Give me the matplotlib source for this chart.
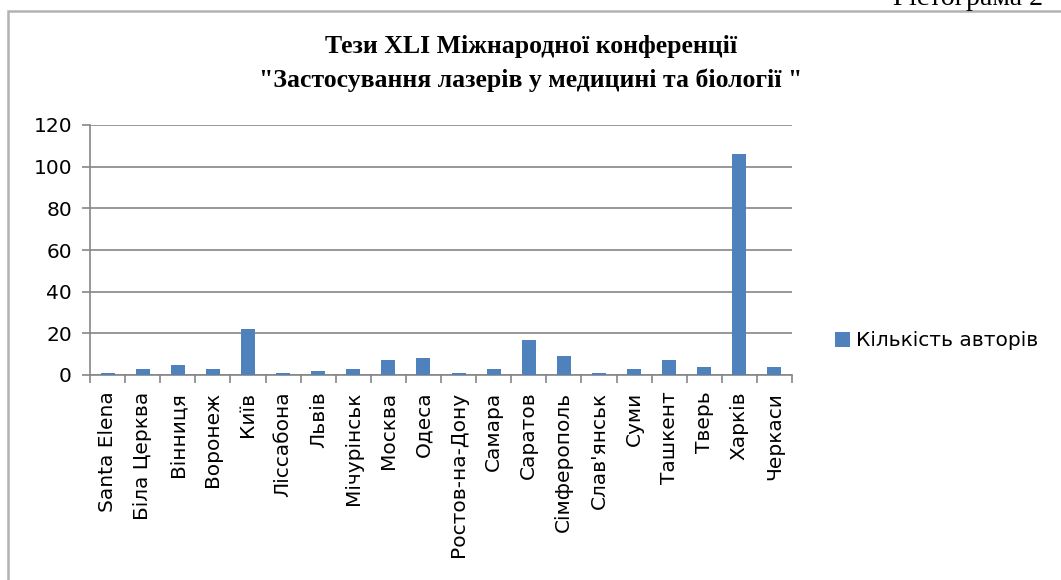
import matplotlib.pyplot as plt
import numpy as np
from matplotlib.patches import Rectangle

# дані гістограми
cities = ['Santa Elena', 'Біла Церква', 'Вінниця', 'Воронеж', 'Київ', 'Ліссабона',
          'Львів', 'Мічурінськ', 'Москва', 'Одеса', 'Ростов-на-Дону', 'Самара',
          'Саратов', 'Сімферополь', "Слав'янськ", 'Суми', 'Ташкент', 'Тверь',
          'Харків', 'Черкаси']
authors = [1, 3, 5, 3, 22, 1, 2, 3, 7, 8, 1, 3, 17, 9, 1, 3, 7, 4, 106, 4]
yticks = [0, 20, 40, 60, 80, 100, 120]

W, H = 1061, 580
fig = plt.figure(figsize=(W / 100, H / 100), dpi=100)
fig.patch.set_facecolor('white')

# рамка діаграми
fig.patches.append(Rectangle((8 / W, -0.1), 1.2, 1 - 11 / H + 0.1, transform=fig.transFigure,
                             fill=False, edgecolor='#b3b3b3', lw=1.8))

fig.text(893 / W, 1 - 5 / H, 'Гістограма 2', family='Liberation Serif', fontsize=20,
         ha='left', va='baseline')

ax = fig.add_axes([90 / W, 1 - 375 / H, 702 / W, 250 / H])
x = np.arange(len(cities))
ax.bar(x, authors, width=0.4, color='#4f81bd', label='Кількість авторів', zorder=3)

ax.set_xlim(-0.5, len(cities) - 0.5)
ax.set_ylim(0, 120)
ax.set_yticks(yticks)
ax.grid(axis='y', color='#868686', lw=1.2, zorder=0)
ax.tick_params(axis='y', direction='out', length=6, width=1.2, color='#868686',
               labelsize=14.5, pad=7)
ax.set_xticks(x)
ax.set_xticklabels(cities, rotation=90, fontsize=14.5)
ax.tick_params(axis='x', which='major', length=0, pad=12)
ax.set_xticks(np.arange(-0.5, len(cities), 1), minor=True)
ax.tick_params(axis='x', which='minor', direction='out', length=6, width=1.2, color='#868686')
for s in ['top', 'right']:
    ax.spines[s].set_visible(False)
for s in ['left', 'bottom']:
    ax.spines[s].set_color('#868686')
    ax.spines[s].set_linewidth(1.2)

ax.legend(loc='center left', bbox_to_anchor=(835 / W, 1 - 341 / H), bbox_transform=fig.transFigure,
          frameon=False, fontsize=14.5, handlelength=0.75, handleheight=0.75,
          handletextpad=0.3, borderaxespad=0, borderpad=0)

fig.text(531 / W, 1 - 47 / H, 'Тези XLI Міжнародної конференції', family='Liberation Serif',
         weight='bold', fontsize=18.5, ha='center', va='center')
fig.text(531 / W, 1 - 80 / H, '"Застосування лазерів у медицині та біології "',
         family='Liberation Serif', weight='bold', fontsize=18.5, ha='center', va='center')

fig.savefig('out.png', dpi=100)
